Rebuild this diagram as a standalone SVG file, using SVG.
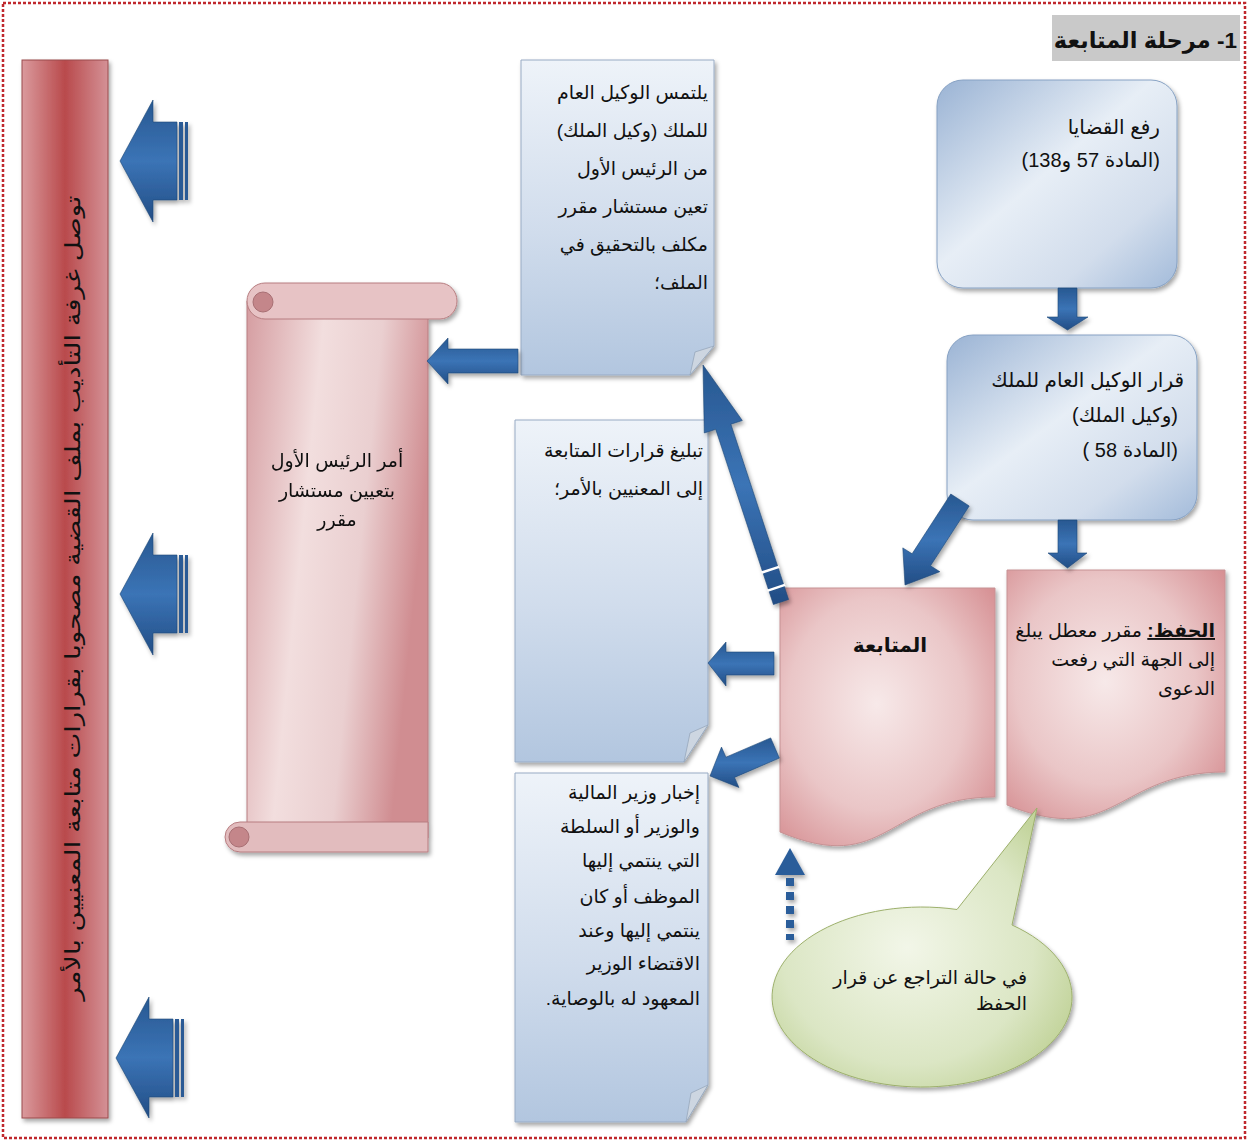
<svg xmlns="http://www.w3.org/2000/svg" width="1249" height="1142" viewBox="0 0 1249 1142">
<defs>
  <style>
    .t{font-family:'Liberation Sans','DejaVu Sans',sans-serif;font-size:19px;fill:#111;direction:rtl;text-anchor:start}
    .t20{font-size:20px}
    .mid{text-anchor:middle}
    .bold{font-weight:bold}
    .arrow{fill:url(#gArrow);stroke:#1d4675;stroke-width:0.6}
    .bluedoc{fill:url(#gBlueDoc);stroke:#98abc4;stroke-width:1}
    .fold{fill:#cdd6e1;stroke:#97a7bb;stroke-width:0.8}
    .round{fill:url(#gRound);stroke:#86a1c3;stroke-width:1}
    .pink{fill:url(#gPink);stroke:#c69294;stroke-width:1}
    .stripe{fill:#2a5a95}
  </style>
  <linearGradient id="gArrow" x1="0" y1="0" x2="0" y2="1">
    <stop offset="0" stop-color="#285891"/>
    <stop offset="0.5" stop-color="#3b74b6"/>
    <stop offset="1" stop-color="#224d85"/>
  </linearGradient>
  <linearGradient id="gBlueDoc" x1="0" y1="0" x2="0" y2="1">
    <stop offset="0" stop-color="#eef3f9"/>
    <stop offset="0.55" stop-color="#d0dcec"/>
    <stop offset="1" stop-color="#b2c6df"/>
  </linearGradient>
  <linearGradient id="gRound" x1="0" y1="0" x2="1" y2="1">
    <stop offset="0" stop-color="#9ab3d4"/>
    <stop offset="0.45" stop-color="#e7eef6"/>
    <stop offset="0.75" stop-color="#d2ddec"/>
    <stop offset="1" stop-color="#a3bbda"/>
  </linearGradient>
  <radialGradient id="gPink" cx="0.45" cy="0.45" r="0.75">
    <stop offset="0" stop-color="#f7e9e9"/>
    <stop offset="0.55" stop-color="#eac6c7"/>
    <stop offset="1" stop-color="#d3878b"/>
  </radialGradient>
  <linearGradient id="gBar" x1="0" y1="0" x2="1" y2="0">
    <stop offset="0" stop-color="#da9a9d"/>
    <stop offset="0.5" stop-color="#b94a4c"/>
    <stop offset="1" stop-color="#d49196"/>
  </linearGradient>
  <linearGradient id="gScroll" x1="0" y1="0" x2="1" y2="0.3">
    <stop offset="0" stop-color="#d59da1"/>
    <stop offset="0.4" stop-color="#f2dede"/>
    <stop offset="0.7" stop-color="#eacfd0"/>
    <stop offset="1" stop-color="#d08d91"/>
  </linearGradient>
  <radialGradient id="gGreen" cx="0.45" cy="0.5" r="0.6">
    <stop offset="0" stop-color="#f2f6e8"/>
    <stop offset="0.7" stop-color="#dbe6c4"/>
    <stop offset="1" stop-color="#c3d49c"/>
  </radialGradient>
  <filter id="sh" x="-10%" y="-10%" width="130%" height="130%">
    <feDropShadow dx="2" dy="3" stdDeviation="2" flood-color="#000" flood-opacity="0.35"/>
  </filter>
</defs>

<rect width="1249" height="1142" fill="#fff"/>
<!-- dotted frame -->
<rect x="3" y="3" width="1242" height="1135" fill="none" stroke="#c0282d" stroke-width="2.5" stroke-dasharray="3 2"/>

<!-- heading -->
<g id="title">
  <rect x="1052" y="15" width="188" height="46" fill="#c9c9c9"/>
  <text class="t bold" x="1237" y="48" style="font-size:22.5px">1- مرحلة المتابعة</text>
</g>

<!-- vertical result bar -->
<g id="result">
  <rect x="22" y="60" width="86" height="1058" fill="url(#gBar)" stroke="#9a4a4c" filter="url(#sh)"/>
  <text class="t mid" transform="translate(80,598) rotate(-90)" style="font-size:21px" textLength="805" lengthAdjust="spacingAndGlyphs">توصل غرفة التأديب بملف القضية مصحوبا بقرارات متابعة المعنيين بالأمر</text>
</g>

<!-- scroll -->
<g id="order" filter="url(#sh)">
  <path d="M247,301 H428 V838 H247 Z" fill="url(#gScroll)" stroke="#b77d80"/>
  <path d="M265,283 H440 A17,18 0 0 1 440,319 H265 A18,18 0 0 1 265,283 Z" fill="#e7c3c5" stroke="#b77d80"/>
  <circle cx="263" cy="302" r="10" fill="#c4868a" stroke="#a86f73"/>
  <path d="M240,822 H428 V852 H240 A15,15 0 0 1 240,822 Z" fill="#e2bcbe" stroke="#b77d80"/>
  <circle cx="239" cy="837" r="10" fill="#c4868a" stroke="#a86f73"/>
  <text class="t mid" x="337" y="467">أمر الرئيس الأول</text>
  <text class="t mid" x="337" y="497">بتعيين مستشار</text>
  <text class="t mid" x="337" y="526">مقرر</text>
</g>

<!-- request box -->
<g id="request">
  <path class="bluedoc" d="M521,60 H714 V346 L690,375 H521 Z" filter="url(#sh)"/>
  <path class="fold" d="M714,346 L690,375 L695,352 Z"/>
  <text class="t" x="708" y="99">يلتمس الوكيل العام</text>
  <text class="t" x="708" y="137">للملك (وكيل الملك)</text>
  <text class="t" x="708" y="175">من الرئيس الأول</text>
  <text class="t" x="708" y="213">تعين مستشار مقرر</text>
  <text class="t" x="708" y="251">مكلف بالتحقيق في</text>
  <text class="t" x="708" y="289">الملف؛</text>
</g>

<!-- notification box -->
<g id="notify">
  <path class="bluedoc" d="M515,420 H708 V725 L684,762 H515 Z" filter="url(#sh)"/>
  <path class="fold" d="M708,725 L684,762 L690,733 Z"/>
  <text class="t" x="703" y="457">تبليغ قرارات المتابعة</text>
  <text class="t" x="703" y="495">إلى المعنيين بالأمر؛</text>
</g>

<!-- minister box -->
<g id="inform">
  <path class="bluedoc" d="M515,773 H708 V1085 L686,1122 H515 Z" filter="url(#sh)"/>
  <path class="fold" d="M708,1085 L686,1122 L691,1093 Z"/>
  <text class="t" x="700" y="799">إخبار وزير المالية</text>
  <text class="t" x="700" y="833">والوزير أو السلطة</text>
  <text class="t" x="700" y="867">التي ينتمي إليها</text>
  <text class="t" x="700" y="903">الموظف أو كان</text>
  <text class="t" x="700" y="937">ينتمي إليها وعند</text>
  <text class="t" x="700" y="970">الاقتضاء الوزير</text>
  <text class="t" x="700" y="1005">المعهود له بالوصاية.</text>
</g>

<!-- referral box -->
<g id="referral">
  <rect class="round" x="937" y="80" width="240" height="208" rx="26" filter="url(#sh)"/>
  <text class="t t20" x="1160" y="134">رفع القضايا</text>
  <text class="t t20" x="1160" y="167">(المادة 57 و138)</text>
</g>

<!-- prosecutor decision box -->
<g id="decision">
  <rect class="round" x="947" y="335" width="250" height="185" rx="26" filter="url(#sh)"/>
  <text class="t t20" x="1184" y="387">قرار الوكيل العام للملك</text>
  <text class="t t20" x="1178" y="422">(وكيل الملك)</text>
  <text class="t t20" x="1178" y="457">(المادة 58 )</text>
</g>

<!-- follow-up document -->
<g id="followup">
  <path class="pink" d="M780,588 H995 V797 C887,797 887,877 780,832 Z" filter="url(#sh)"/>
  <text class="t t20 mid bold" x="890" y="652">المتابعة</text>
</g>

<!-- dismissal document -->
<g id="dismissal">
  <path class="pink" d="M1007,570 H1225 V772 C1116,772 1116,849 1007,805 Z" filter="url(#sh)"/>
  <text class="t" x="1215" y="637"><tspan font-weight="bold" text-decoration="underline">الحفظ:</tspan> مقرر معطل يبلغ</text>
  <text class="t" x="1215" y="666">إلى الجهة التي رفعت</text>
  <text class="t" x="1215" y="695">الدعوى</text>
</g>

<!-- reversal callout -->
<g id="reversal">
  <path d="M957,909.5 L1037,808 L1012,925 A150,90 0 1 1 957,909.5 Z" fill="url(#gGreen)" stroke="#9db06c" stroke-width="1" filter="url(#sh)"/>
  <text class="t" x="1027" y="984">في حالة التراجع عن قرار</text>
  <text class="t" x="1027" y="1010">الحفظ</text>
</g>

<!-- connectors -->
<g id="connectors" filter="url(#sh)">
  <!-- arrows into the result bar -->
  <path class="arrow" d="M120,161 L153,100 L153,122 L177,122 L177,200 L153,200 L153,222 Z"/>
  <rect class="stripe" x="179" y="122" width="4" height="78"/>
  <rect class="stripe" x="185" y="122" width="3" height="78"/>
  <path class="arrow" d="M120,594 L153,533 L153,555 L177,555 L177,633 L153,633 L153,655 Z"/>
  <rect class="stripe" x="179" y="555" width="4" height="78"/>
  <rect class="stripe" x="185" y="555" width="3" height="78"/>
  <path class="arrow" d="M116,1058 L149,997 L149,1019 L173,1019 L173,1097 L149,1097 L149,1118 Z"/>
  <rect class="stripe" x="175" y="1019" width="4" height="78"/>
  <rect class="stripe" x="181" y="1019" width="3" height="78"/>

  <!-- request to scroll -->
  <path class="arrow" d="M427,361 L448,338 L448,349 L518,349 L518,373 L448,373 L448,384 Z"/>

  <!-- referral to decision -->
  <path class="arrow" d="M1058,288 H1077 V317 H1088 L1067.5,330 L1047,317 H1058 Z"/>
  <!-- decision to dismissal -->
  <path class="arrow" d="M1058,520 H1077 V553 H1087 L1067.5,568 L1048,553 H1058 Z"/>
  <!-- decision to follow-up -->
  <path class="arrow" d="M905,585 L939.8,571.7 L930.5,565.8 L969.2,506 L950.8,494 L912.1,553.8 L902.8,547.9 Z"/>

  <!-- follow-up to request -->
  <path class="arrow" d="M703,365 L742.3,420.5 L730.9,424.2 L788.6,599.5 L773.4,604.5 L715.7,429.3 L704.3,433 Z"/>
  <line x1="784.9" y1="584.9" x2="767.8" y2="590.6" stroke="#fff" stroke-width="2.5"/>
  <line x1="779" y1="566.9" x2="761.9" y2="572.5" stroke="#fff" stroke-width="2.5"/>
  <!-- follow-up to notification -->
  <path class="arrow" d="M708,663 L726,642 L726,652 L774,652 L774,675 L726,675 L726,686 Z"/>
  <!-- follow-up to minister -->
  <path class="arrow" d="M710,776 L721.5,747.1 L725.9,757.2 L770.7,737.9 L779.3,758.1 L734.5,777.4 L738.9,787.5 Z"/>

  <!-- reversal back to follow-up -->
  <path d="M790,848 L805,875 L775,875 Z" fill="#2b5d9a"/>
  <line x1="790" y1="878" x2="790" y2="940" stroke="#2b5d9a" stroke-width="8" stroke-dasharray="8 6"/>
</g>
</svg>
